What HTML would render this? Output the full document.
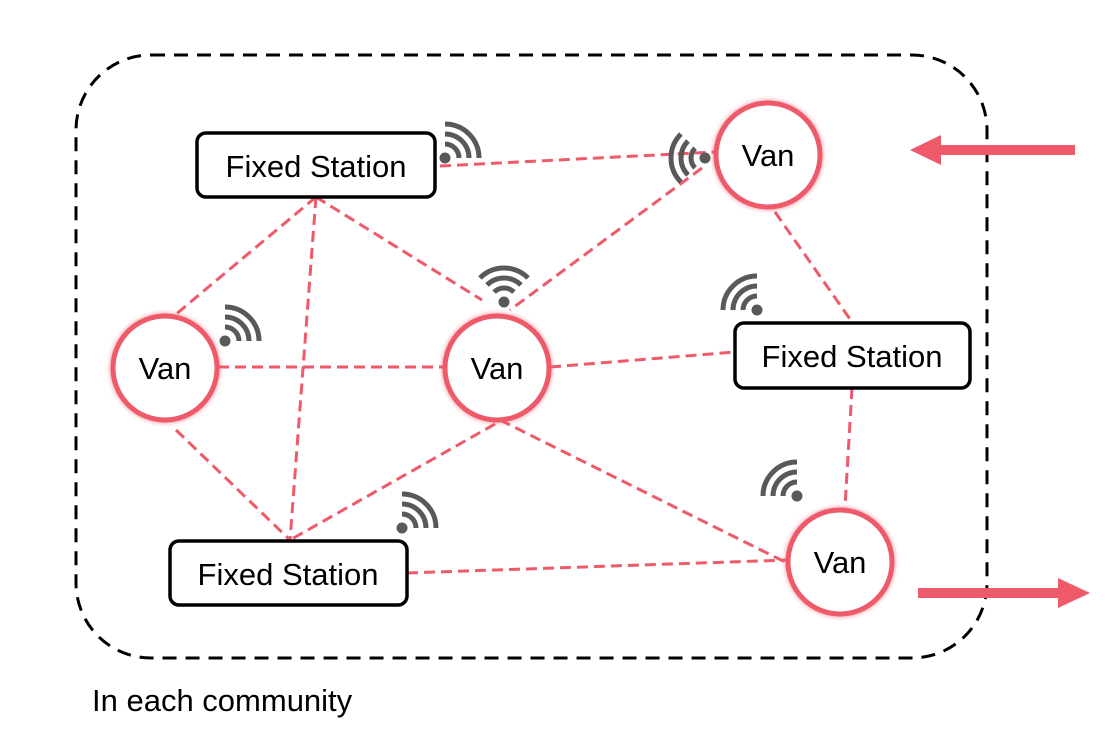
<!DOCTYPE html>
<html><head><meta charset="utf-8"><style>
html,body{margin:0;padding:0;background:#fff;width:1107px;height:756px;overflow:hidden}
svg{display:block}
text{font-family:"Liberation Sans",Arial,sans-serif}
</style></head><body>
<svg width="1107" height="756" viewBox="0 0 1107 756" xmlns="http://www.w3.org/2000/svg">
<defs>
<filter id="sh" x="-30%" y="-30%" width="160%" height="160%"><feGaussianBlur stdDeviation="2.5"/></filter>
<g id="wifi" fill="none" stroke="#595959" stroke-width="5">
<circle cx="0" cy="0" r="5.5" fill="#595959" stroke="none"/>
<path d="M0,-14 A14,14 0 0 1 14,0"/>
<path d="M0,-24 A24,24 0 0 1 24,0"/>
<path d="M0,-34 A34,34 0 0 1 34,0"/>
</g>
</defs>
<rect x="76" y="55" width="911" height="603" rx="75" ry="75" fill="none" stroke="#000" stroke-width="3" stroke-dasharray="14,9"/>
<g stroke="#ee5a6a" stroke-width="3" stroke-dasharray="11,6" fill="none">
<line x1="440" y1="166" x2="715" y2="152"/>
<line x1="316" y1="197" x2="175" y2="315"/>
<line x1="316" y1="197" x2="290" y2="540"/>
<line x1="316" y1="197" x2="482" y2="300"/>
<line x1="702" y1="168" x2="510" y2="310"/>
<line x1="775" y1="212" x2="852" y2="322"/>
<line x1="218" y1="367" x2="445" y2="367"/>
<line x1="176" y1="430" x2="290" y2="540"/>
<line x1="495" y1="424" x2="290" y2="540"/>
<line x1="550" y1="367" x2="735" y2="352"/>
<line x1="500" y1="420" x2="785" y2="562"/>
<line x1="852" y1="388" x2="845" y2="507"/>
<line x1="407" y1="573" x2="788" y2="560"/>
</g>
<g fill="#fff" stroke="#000" stroke-width="3.5">
<rect x="197" y="133" width="238" height="64" rx="9"/>
<rect x="735" y="323" width="235" height="65" rx="9"/>
<rect x="170" y="541" width="237" height="64" rx="9"/>
</g>
<g font-size="31" fill="#000" text-anchor="middle">
<text x="316" y="177">Fixed Station</text>
<text x="852" y="367">Fixed Station</text>
<text x="288" y="585">Fixed Station</text>
</g>
<g>
<g fill="none" stroke="#ee5a6a" stroke-width="6" opacity="0.6" filter="url(#sh)">
<circle cx="768" cy="155" r="52"/><circle cx="165" cy="368" r="52"/><circle cx="497" cy="368" r="52"/><circle cx="840" cy="562" r="52"/>
</g>
<g fill="#fff" stroke="#ee5a6a" stroke-width="5">
<circle cx="768" cy="155" r="52"/><circle cx="165" cy="368" r="52"/><circle cx="497" cy="368" r="52"/><circle cx="840" cy="562" r="52"/>
</g>
<g font-size="31" fill="#000" text-anchor="middle">
<text x="768" y="166">Van</text><text x="165" y="379">Van</text><text x="497" y="379">Van</text><text x="840" y="573">Van</text>
</g>
</g>
<use href="#wifi" transform="translate(445,158)"/>
<use href="#wifi" transform="translate(705,158) rotate(-135)"/>
<use href="#wifi" transform="translate(504,302) rotate(-45)"/>
<use href="#wifi" transform="translate(757,310) rotate(-90)"/>
<use href="#wifi" transform="translate(225,341)"/>
<use href="#wifi" transform="translate(797,496) rotate(-90)"/>
<use href="#wifi" transform="translate(402,528)"/>
<g fill="#ee5a6a">
<rect x="938" y="145" width="137" height="10"/>
<polygon points="910,150 941,135 941,165"/>
<rect x="918" y="588" width="142" height="10"/>
<polygon points="1090,593 1058,578 1058,608"/>
</g>
<text x="92" y="711" font-size="31" fill="#000">In each community</text>
</svg>
</body></html>
